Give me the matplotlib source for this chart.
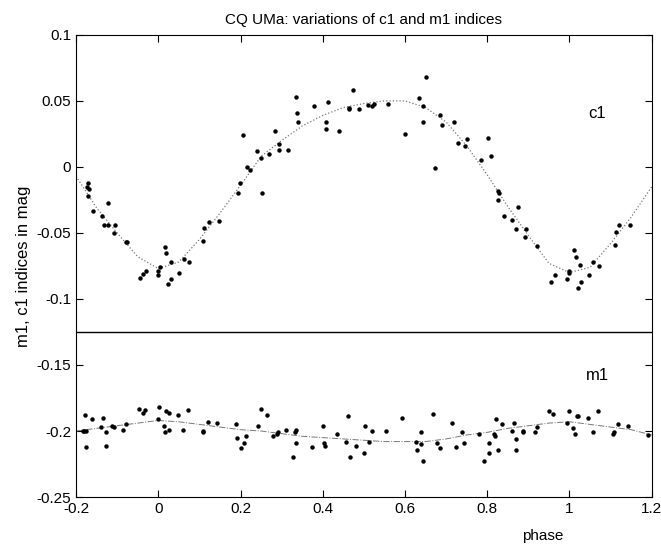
import matplotlib
matplotlib.use('Agg')
import matplotlib.pyplot as plt

plt.rcParams['font.family'] = ['Liberation Sans', 'DejaVu Sans']

# --- data c1 (titik pengamatan) ---
c1_phase = [-0.170, -0.174, -0.168, -0.172, -0.158, -0.123, -0.136, -0.131, -0.123, -0.105,
            -0.107, -0.078, -0.076, -0.044, -0.036, -0.031, 0.000, 0.000, 0.004, 0.016,
            0.019, 0.024, 0.030, 0.031, 0.050, 0.063, 0.075, 0.110, 0.112, 0.124,
            0.148, 0.195, 0.199, 0.205, 0.215, 0.223, 0.241, 0.249, 0.253, 0.270,
            0.285, 0.294, 0.293, 0.316, 0.335, 0.338, 0.340, 0.379, 0.408, 0.413,
            0.409, 0.440, 0.464, 0.465, 0.474, 0.488, 0.509, 0.519, 0.524, 0.559,
            0.600, 0.634, 0.644, 0.644, 0.651, 0.673, 0.685, 0.691, 0.720, 0.729,
            0.745, 0.750, 0.784, 0.801, 0.810, 0.827, 0.829, 0.827, 0.875, 0.841,
            0.861, 0.871, 0.894, 0.891, 0.922, 0.954, 0.964, 0.995, 0.998, 1.000,
            1.011, 1.015, 1.021, 1.029, 1.025, 1.048, 1.057, 1.072, 1.110, 1.114,
            1.121, 1.148]
c1_mag = [-0.012, -0.015, -0.017, -0.022, -0.033, -0.027, -0.037, -0.044, -0.044, -0.044,
          -0.050, -0.057, -0.057, -0.084, -0.081, -0.079, -0.082, -0.079, -0.076, -0.061,
          -0.065, -0.089, -0.085, -0.072, -0.080, -0.070, -0.072, -0.056, -0.046, -0.042,
          -0.041, -0.020, -0.012, 0.024, 0.000, -0.002, 0.012, 0.007, -0.020, 0.010,
          0.027, 0.017, 0.013, 0.013, 0.053, 0.041, 0.034, 0.046, 0.034, 0.049,
          0.029, 0.027, 0.045, 0.044, 0.058, 0.044, 0.047, 0.046, 0.048, 0.048,
          0.025, 0.052, 0.046, 0.034, 0.068, -0.001, 0.039, 0.032, 0.034, 0.018,
          0.016, 0.021, 0.005, 0.022, 0.008, -0.018, -0.020, -0.025, -0.030, -0.037,
          -0.040, -0.047, -0.047, -0.053, -0.060, -0.087, -0.082, -0.085, -0.079, -0.080,
          -0.063, -0.068, -0.092, -0.087, -0.074, -0.082, -0.072, -0.075, -0.059, -0.049,
          -0.044, -0.044]

# --- data m1 (titik pengamatan) ---
m1_phase = [-0.178, -0.181, -0.184, -0.176, -0.176, -0.162, -0.140, -0.135, -0.128, -0.128,
            -0.113, -0.107, -0.085, -0.078, -0.046, -0.038, -0.032, 0.002, 0.000, 0.014,
            0.016, 0.027, 0.020, 0.027, 0.049, 0.059, 0.072, 0.108, 0.108, 0.120,
            0.143, 0.189, 0.191, 0.200, 0.208, 0.213, 0.243, 0.249, 0.265, 0.278,
            0.289, 0.290, 0.310, 0.328, 0.332, 0.334, 0.335, 0.373, 0.401, 0.404,
            0.406, 0.434, 0.456, 0.462, 0.466, 0.481, 0.502, 0.500, 0.513, 0.519,
            0.553, 0.593, 0.626, 0.628, 0.638, 0.638, 0.643, 0.667, 0.678, 0.685,
            0.715, 0.723, 0.739, 0.744, 0.780, 0.793, 0.804, 0.805, 0.816, 0.818,
            0.821, 0.825, 0.836, 0.859, 0.865, 0.871, 0.869, 0.886, 0.887, 0.916,
            0.921, 0.950, 0.960, 0.995, 0.999, 1.009, 1.013, 1.019, 1.021, 1.044,
            1.056, 1.070, 1.106, 1.107, 1.117, 1.143, 1.190]
m1_mag = [-0.188, -0.200, -0.200, -0.200, -0.212, -0.191, -0.197, -0.190, -0.201, -0.211,
          -0.196, -0.197, -0.199, -0.195, -0.183, -0.186, -0.184, -0.182, -0.191, -0.196,
          -0.201, -0.199, -0.185, -0.186, -0.188, -0.199, -0.184, -0.200, -0.201, -0.193,
          -0.194, -0.195, -0.205, -0.213, -0.209, -0.204, -0.196, -0.183, -0.188, -0.204,
          -0.202, -0.201, -0.199, -0.220, -0.201, -0.199, -0.209, -0.212, -0.196, -0.209,
          -0.211, -0.202, -0.208, -0.189, -0.220, -0.211, -0.196, -0.217, -0.208, -0.200,
          -0.200, -0.190, -0.208, -0.214, -0.201, -0.210, -0.223, -0.187, -0.209, -0.213,
          -0.194, -0.212, -0.201, -0.209, -0.202, -0.223, -0.209, -0.217, -0.202, -0.204,
          -0.191, -0.214, -0.195, -0.200, -0.194, -0.206, -0.214, -0.200, -0.201, -0.201,
          -0.197, -0.185, -0.187, -0.194, -0.185, -0.198, -0.202, -0.189, -0.189, -0.190,
          -0.201, -0.185, -0.202, -0.201, -0.195, -0.196, -0.203]

# --- kurva fit ---
fit_phase = [-0.20, -0.15, -0.10, -0.05, 0.00, 0.05, 0.10, 0.15, 0.20, 0.25,
             0.30, 0.35, 0.40, 0.45, 0.50, 0.55, 0.60, 0.65, 0.70, 0.75,
             0.80, 0.85, 0.90, 0.95, 1.00, 1.05, 1.10, 1.15, 1.20]
c1_fit = [-0.007, -0.031, -0.050, -0.068, -0.077, -0.072, -0.055, -0.035, -0.014, 0.008,
          0.020, 0.031, 0.039, 0.045, 0.048, 0.050, 0.050, 0.045, 0.034, 0.016,
          -0.006, -0.030, -0.052, -0.073, -0.080, -0.076, -0.058, -0.038, -0.015]
m1_fit = [-0.200, -0.198, -0.196, -0.194, -0.192, -0.193, -0.195, -0.197, -0.199, -0.200,
          -0.202, -0.204, -0.205, -0.206, -0.207, -0.208, -0.208, -0.208, -0.206, -0.203,
          -0.201, -0.198, -0.196, -0.194, -0.193, -0.195, -0.197, -0.199, -0.203]

x_ticks = [-0.2, 0, 0.2, 0.4, 0.6, 0.8, 1, 1.2]
x_ticklabels = ['-0.2', '0', '0.2', '0.4', '0.6', '0.8', '1', '1.2']
y_ticks = [0.1, 0.05, 0, -0.05, -0.1, -0.15, -0.2, -0.25]
y_ticklabels = ['0.1', '0.05', '0', '-0.05', '-0.1', '-0.15', '-0.2', '-0.25']
separator = -0.125

fig = plt.figure(figsize=(6.61, 5.45), dpi=100)
ax = fig.add_axes([0.115, 0.088, 0.871, 0.848])

# garis fit tipis abu-abu
ax.plot(fit_phase, c1_fit, linestyle=':', color='#777777', linewidth=0.9)
ax.plot(fit_phase, m1_fit, linestyle='-.', color='#777777', linewidth=0.7)

# titik pengamatan
ax.plot(c1_phase, c1_mag, 'o', color='black', markersize=3.2, markeredgewidth=0)
ax.plot(m1_phase, m1_mag, 'o', color='black', markersize=3.2, markeredgewidth=0)

# garis pemisah panel
ax.axhline(separator, color='black', linewidth=1.0)

ax.text(1.045, 0.037, 'c1', fontsize=12)
ax.text(1.04, -0.161, 'm1', fontsize=12)

ax.set_xlim(-0.2, 1.2)
ax.set_ylim(-0.25, 0.1)
ax.set_xticks(x_ticks)
ax.set_xticklabels(x_ticklabels)
ax.set_yticks(y_ticks)
ax.set_yticklabels(y_ticklabels)
ax.tick_params(direction='in', top=True, right=True, labelsize=11, length=5)

ax.set_title('CQ UMa: variations of c1 and m1 indices', fontsize=11, pad=8)
ax.set_ylabel('m1, c1 indices in mag', fontsize=12)
ax.set_xlabel('phase', fontsize=11)
ax.xaxis.set_label_coords(0.81, -0.07)

plt.savefig('out.png', dpi=100)
